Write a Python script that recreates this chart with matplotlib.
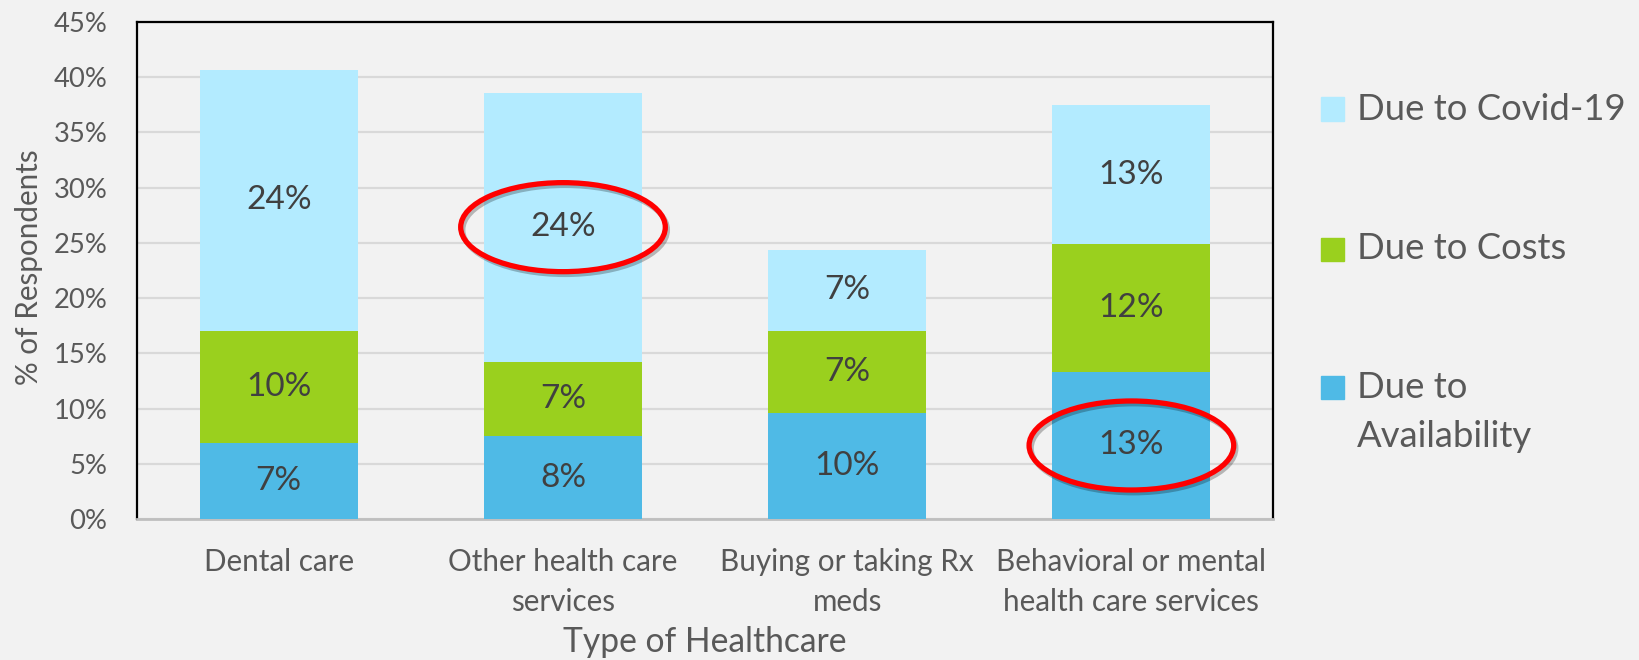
import matplotlib
matplotlib.use("Agg")
import matplotlib.pyplot as plt
from matplotlib.patches import Ellipse, Rectangle
import matplotlib.patheffects as pe
import numpy as np

# ---- data ----
categories = ["Dental care", "Other health care\nservices", "Buying or taking Rx\nmeds",
              "Behavioral or mental\nhealth care services"]
series_names = ["Due to Availability", "Due to Costs", "Due to Covid-19"]
availability = [6.93, 7.52, 9.58, 13.35]
costs = [10.14, 6.74, 7.47, 11.52]
covid = [23.6, 24.32, 7.3, 12.62]
legend_labels = ["Due to Covid-19", "Due to Costs", "Due to\nAvailability"]
y_ticks = [0, 5, 10, 15, 20, 25, 30, 35, 40, 45]
highlight = [(1, 2), (3, 0)]  # (category index, series index) circled in red

colors = ["#4FBAE6", "#9AD01E", "#B3EBFF"]
BG = "#F2F2F2"
FONT = "Lato"
plt.rcParams["font.family"] = [FONT, "DejaVu Sans"]

W, H = 1640, 660
fig = plt.figure(figsize=(W / 100, H / 100), dpi=100, facecolor=BG)
ax_l, ax_r, ax_t, ax_b = 136.7, 1273.5, 21.7, 519.3
ax = fig.add_axes([ax_l / W, 1 - ax_b / H, (ax_r - ax_l) / W, (ax_b - ax_t) / H])
ax.set_facecolor(BG)

x = np.arange(len(categories))
width = 0.556
series = [availability, costs, covid]
bottom = np.zeros(len(categories))
for vals, col in zip(series, colors):
    vals = np.array(vals)
    ax.bar(x, vals, width, bottom=bottom, color=col, zorder=3)
    for xi, b, v in zip(x, bottom, vals):
        ax.text(xi, b + v / 2, f"{round(v)}%", ha="center", va="center",
                fontsize=24, color="#404040", zorder=4)
    bottom = bottom + vals

ax.set_xlim(-0.5, len(categories) - 0.5)
ax.set_ylim(0, 45)
ax.set_yticks(y_ticks)
ax.set_yticklabels([f"{t}%" for t in y_ticks])
ax.set_xticks(x)
ax.set_xticklabels(categories, linespacing=1.5)
ax.tick_params(axis="y", length=0, pad=21, labelsize=19.7, labelcolor="#595959")
ax.tick_params(axis="x", length=0, pad=21, labelsize=21.3, labelcolor="#595959")
ax.grid(axis="y", color="#D9D9D9", linewidth=1.6, zorder=0)
ax.set_axisbelow(True)
for s in ["left", "top", "right"]:
    ax.spines[s].set_color("black")
    ax.spines[s].set_linewidth(1.6)
ax.spines["bottom"].set_color("#BFBFBF")
ax.spines["bottom"].set_linewidth(2)

ax.set_ylabel("% of Respondents", fontsize=21.3, color="#595959")
ax.yaxis.set_label_coords((29 - ax_l) / (ax_r - ax_l), (ax_b - 267) / (ax_b - ax_t))
ax.yaxis.label.set_va("center")
ax.set_xlabel("Type of Healthcare", fontsize=24.2, color="#595959")
ax.xaxis.set_label_coords(0.5, (ax_b - 642) / (ax_b - ax_t))
ax.xaxis.label.set_va("center")

# red highlight ellipses
cum = np.cumsum(np.array(series), axis=0)
for ci, si in highlight:
    lo = cum[si - 1][ci] if si > 0 else 0
    mid = lo + series[si][ci] / 2
    e = Ellipse((ci, mid), 0.72, 8.05, fill=False, edgecolor="#FF0000", lw=3.8,
                zorder=6, clip_on=False)
    e.set_path_effects([pe.SimpleLineShadow(offset=(1.5, -2), shadow_color="black", alpha=0.25),
                        pe.Normal()])
    ax.add_patch(e)

# legend (manual, figure pixel coordinates)
leg_y = [109, 249, 387]
leg_cols = [colors[2], colors[1], colors[0]]
sq = 23
for yy, lab, col in zip(leg_y, legend_labels, leg_cols):
    fig.patches.append(Rectangle((1321 / W, 1 - (yy + sq / 2) / H), sq / W, sq / H,
                                 transform=fig.transFigure, color=col, figure=fig))
    nlines = lab.count("\n") + 1
    cy = yy + (nlines - 1) * 50 / 2
    fig.text(1357 / W, 1 - cy / H, lab, fontsize=26.3, color="#595959",
             ha="left", va="center", linespacing=1.56)

fig.savefig("out.png", dpi=100, facecolor=BG)
